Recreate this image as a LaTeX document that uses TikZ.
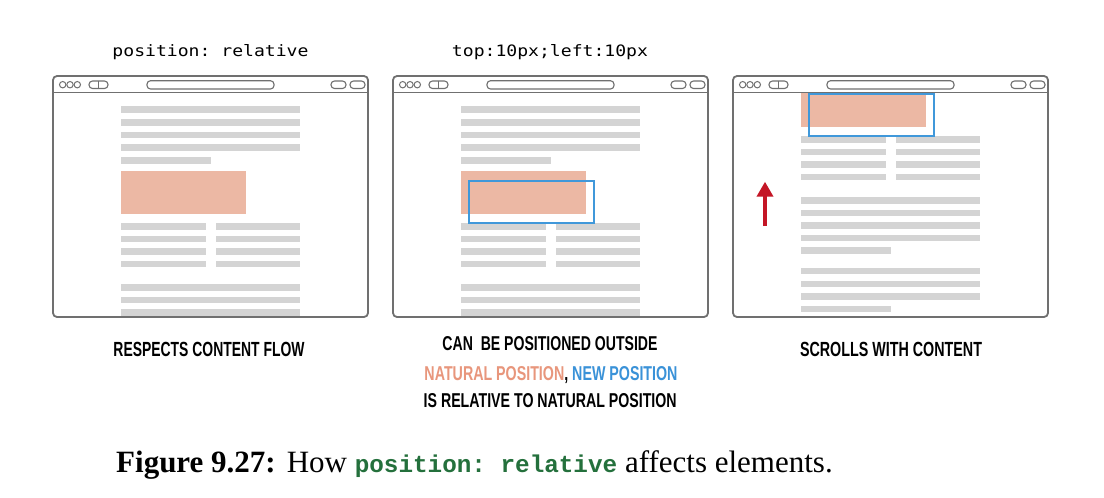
\documentclass[tikz,border=0pt]{standalone}
\usepackage{fontspec}
\usepackage{graphicx}
\setmainfont{Liberation Serif}
\newfontfamily\lblfont{Liberation Sans}
\newfontfamily\ttlfont{DejaVu Sans Mono}
\newfontfamily\codefont{Liberation Mono}
\usetikzlibrary{arrows.meta}
\definecolor{framegray}{RGB}{112,112,112}
\definecolor{linegray}{RGB}{212,212,212}
\definecolor{salmon}{RGB}{236,184,164}
\definecolor{newblue}{RGB}{64,152,218}
\definecolor{arrowred}{RGB}{196,22,38}
\definecolor{txtsalmon}{RGB}{232,150,124}
\definecolor{txtblue}{RGB}{58,146,216}
\definecolor{codegreen}{RGB}{36,112,60}
\tikzset{
  textline/.style={fill=linegray},
  natural/.style={fill=salmon},
  newpos/.style={draw=newblue, line width=1.8pt},
  frame/.style={draw=framegray, line width=1.8pt, rounded corners=4pt},
  bar/.style={draw=framegray, line width=1.1pt, rounded corners=3.5pt},
  dot/.style={draw=framegray, line width=1pt},
  lbl/.style={anchor=base, inner sep=0pt, outer sep=0pt},
}
\newcommand\pgcontent{%
  \foreach \yy in {109.5,122.2,134.9,147.6,287.3,300,312.5,325,358,371,383.3}
    {\fill[textline] (121,\yy-3.4) rectangle (300,\yy+3.4);}
  \foreach \yy in {160.3,337.8,396}
    {\fill[textline] (121,\yy-3.4) rectangle (211,\yy+3.4);}
  \foreach \yy in {226.3,239,251.3,264}
    {\fill[textline] (121,\yy-3.4) rectangle (206,\yy+3.4);
     \fill[textline] (216,\yy-3.4) rectangle (300,\yy+3.4);}
  \fill[natural] (121,170.7) rectangle (246,214);
}
\newcommand\newposbox{\draw[newpos] (129,180.7) rectangle (254,222.7);}
\newcommand\viewclip{\clip (53,93.5) rectangle (368,316);}
\newcommand\chrome{%
  \draw[framegray, line width=1.5pt] (53,92.5) -- (368,92.5);
  \draw[dot] (62.7,84.7) circle[radius=3.2pt];
  \draw[dot] (70,84.7) circle[radius=3.2pt];
  \draw[dot] (77.3,84.7) circle[radius=3.2pt];
  \draw[bar] (89,81) rectangle (108,88.5);
  \draw[dot] (98.3,81) -- (98.3,88.5);
  \draw[bar] (147,80.7) rectangle (274,89);
  \draw[bar] (331,81) rectangle (346,88.5);
  \draw[bar] (350,81) rectangle (365,88.5);
  \draw[frame] (53,76) rectangle (368,317);
}
\begin{document}
\frenchspacing
\begin{tikzpicture}[x=1pt,y=-1pt]
  \fill[white] (0,0) rectangle (1104,498);
  \useasboundingbox (0,0) rectangle (1104,498);

  % browser 1
  \begin{scope}
    \viewclip
    \pgcontent
  \end{scope}
  \chrome
  % browser 2
  \begin{scope}[shift={(340,0)}]
    \begin{scope}
      \viewclip
      \pgcontent
      \newposbox
    \end{scope}
    \chrome
  \end{scope}
  % browser 3
  \begin{scope}[shift={(680,0)}]
    \begin{scope}
      \viewclip
      \begin{scope}[shift={(0,-87)}]
        \pgcontent
        \newposbox
      \end{scope}
    \end{scope}
    \chrome
  \end{scope}

  % scroll arrow
  \coordinate (arrTail) at (765,226);
  \coordinate (arrTip) at (765,181.7);
  \draw[arrowred, line width=4pt, -{Triangle[width=16pt,length=15pt]}] (arrTail) -- (arrTip);

  % titles
  \node[lbl] (title1) at (210.5,56) {\resizebox{196pt}{12pt}{\ttlfont position: relative}};
  \node[lbl] (title2) at (550,56) {\resizebox{196pt}{12pt}{\ttlfont top:10px;left:10px}};

  % labels
  \node[lbl] (lab1) at (209,356) {\resizebox{191pt}{14.3pt}{\lblfont\bfseries RESPECTS CONTENT FLOW}};
  \node[lbl] (lab3) at (891,356) {\resizebox{182pt}{14.3pt}{\lblfont\bfseries SCROLLS WITH CONTENT}};
  \node[lbl] (mid1) at (550,350.7) {\resizebox{215pt}{14pt}{\lblfont\bfseries CAN\ \ BE POSITIONED OUTSIDE}};
  \node[lbl] (mid2) at (551,380.3) {\resizebox{253pt}{14pt}{\lblfont\bfseries{\color{txtsalmon}NATURAL POSITION}, {\color{txtblue}NEW POSITION}}};
  \node[lbl] (mid3) at (550.2,407.5) {\resizebox{253pt}{14pt}{\lblfont\bfseries IS RELATIVE TO NATURAL POSITION}};

  % caption
  \node[anchor=base west, inner sep=0pt] (caption) at (116,472.7)
    {\fontsize{31}{36}\selectfont\textbf{Figure 9.27:}\hspace{11pt}How {\codefont\bfseries\fontsize{24.3}{28}\selectfont\color{codegreen}position: relative} affects elements.};
\end{tikzpicture}
\end{document}
